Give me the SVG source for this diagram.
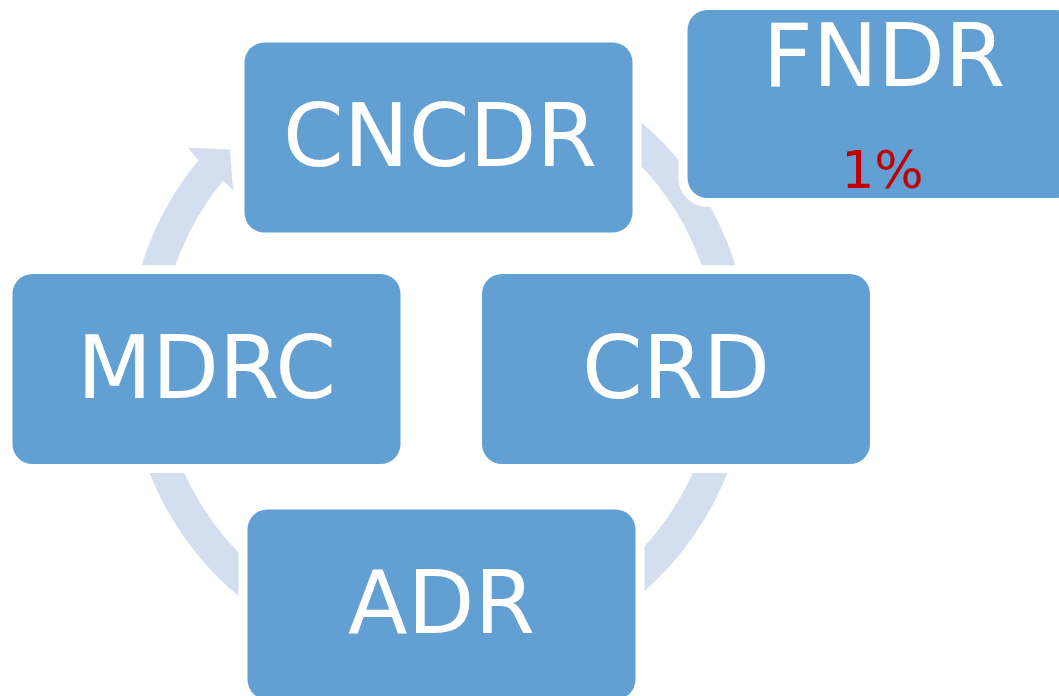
<svg xmlns="http://www.w3.org/2000/svg" width="1059" height="696" viewBox="0 0 1059 696">
  <style>
    .box { fill: #629FD3; stroke: #FFFFFF; stroke-width: 18; paint-order: stroke; }
    .lbl { font-family: "DejaVu Sans", Verdana, sans-serif; font-size: 87px; fill: #FFFFFF; text-anchor: middle; }
    .pct { font-family: "DejaVu Sans", Verdana, sans-serif; font-size: 52px; fill: #C00000; text-anchor: middle; }
    .ring { fill: none; stroke: #D3DFEF; stroke-width: 32; }
    .head { fill: #D3DFEF; }
  </style>
  <rect width="1059" height="696" fill="#FFFFFF"/>
  <g id="connectors">
    <path class="ring" d="M 273.5 113.4 A 295 295 0 1 1 143.5 358"/>
    <path class="head" d="M 127.5 358 A 311 311 0 0 1 198.5 160.2 L 188 147.8 L 229.9 149.4 L 233.2 190.5 L 223.2 180.5 A 279 279 0 0 0 159.5 358 Z"/>
  </g>
  <g id="CNCDR">
    <rect class="box" x="244.5" y="42.5" width="388" height="190" rx="20"/>
    <text class="lbl" x="440" y="166">CNCDR</text>
  </g>
  <g id="CRD">
    <rect class="box" x="482" y="274" width="388" height="190" rx="20"/>
    <text class="lbl" x="676" y="398">CRD</text>
  </g>
  <g id="ADR">
    <rect class="box" x="247.5" y="509.5" width="388" height="190" rx="20"/>
    <text class="lbl" x="441.5" y="633">ADR</text>
  </g>
  <g id="MDRC">
    <rect class="box" x="12.5" y="274" width="388" height="190" rx="20"/>
    <text class="lbl" x="206.5" y="398">MDRC</text>
  </g>
  <g id="FNDR">
    <rect class="box" x="687.5" y="10" width="388" height="188" rx="20"/>
    <text class="lbl" x="884" y="86">FNDR</text>
    <text class="pct" x="882.5" y="188">1%</text>
  </g>
</svg>
